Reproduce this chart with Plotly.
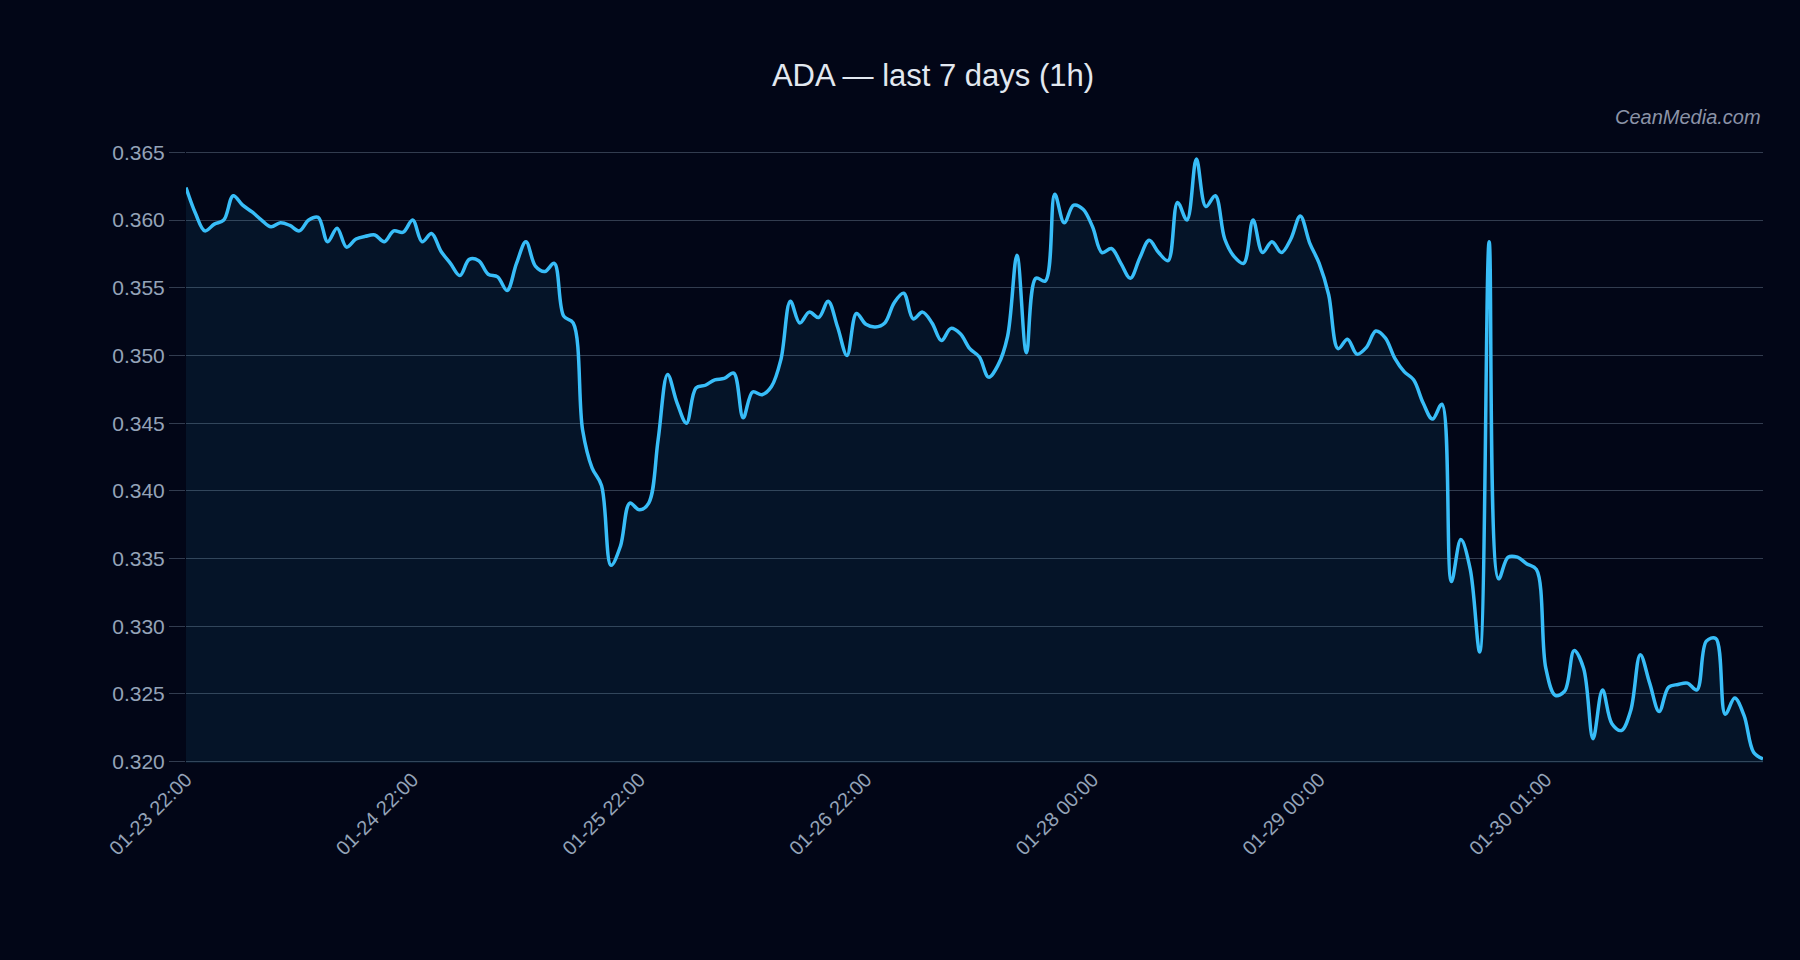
import plotly.graph_objects as go

# Hourly ADA price, point index 0..167
prices = [
    0.3624, 0.3605, 0.3592, 0.3597, 0.3600, 0.3618, 0.3611, 0.3606, 0.3600, 0.3595,
    0.3598, 0.3596, 0.3592, 0.3600, 0.3602, 0.3584, 0.3594, 0.3580, 0.3586, 0.3588,
    0.3589, 0.3584, 0.3592, 0.3591, 0.3600, 0.3584, 0.3590, 0.3577, 0.3568, 0.3559,
    0.3571, 0.3570, 0.3560, 0.3558, 0.3548, 0.3568, 0.3584, 0.3566, 0.3562, 0.3568,
    0.3529, 0.3524, 0.3445, 0.3417, 0.3404, 0.3345, 0.3359, 0.3391, 0.3386, 0.3391,
    0.3438, 0.3486, 0.3465, 0.3450, 0.3476, 0.3478, 0.3482, 0.3483, 0.3487, 0.3454,
    0.3473, 0.3471, 0.3477, 0.3497, 0.3540, 0.3524, 0.3532, 0.3528, 0.3540, 0.3521,
    0.3500, 0.3531, 0.3523, 0.3521, 0.3524, 0.3539, 0.3546, 0.3527, 0.3532, 0.3524,
    0.3511, 0.3520, 0.3516, 0.3505, 0.3499, 0.3484, 0.3493, 0.3514, 0.3574, 0.3502,
    0.3557, 0.3555, 0.3619, 0.3598, 0.3611, 0.3608, 0.3595, 0.3576, 0.3579, 0.3568,
    0.3557, 0.3572, 0.3585, 0.3576, 0.3570, 0.3613, 0.3600, 0.3645, 0.3610, 0.3618,
    0.3586, 0.3573, 0.3568, 0.3600, 0.3576, 0.3584, 0.3576, 0.3586, 0.3603, 0.3583,
    0.3568, 0.3545, 0.3505, 0.3512, 0.3501, 0.3506, 0.3518, 0.3513, 0.3498, 0.3488,
    0.3482, 0.3465, 0.3453, 0.3464, 0.3333, 0.3364, 0.3342, 0.3281, 0.3584, 0.3335,
    0.3351, 0.3351, 0.3346, 0.3342, 0.3269, 0.3249, 0.3252, 0.3282, 0.3269, 0.3217,
    0.3253, 0.3228, 0.3223, 0.3238, 0.3279, 0.3258, 0.3237, 0.3255, 0.3257, 0.3258,
    0.3253, 0.3289, 0.3291, 0.3235, 0.3247, 0.3234, 0.3207, 0.3202,
]
point_index = list(range(len(prices)))

tick_index = [0, 24, 48, 72, 96, 120, 144]
tick_labels = ["01-23 22:00", "01-24 22:00", "01-25 22:00", "01-26 22:00",
               "01-28 00:00", "01-29 00:00", "01-30 01:00"]

y_ticks = [0.320, 0.325, 0.330, 0.335, 0.340, 0.345, 0.350, 0.355, 0.360, 0.365]

BG = "#020617"
GRID = "#323c4f"
TXT = "#94a3b8"
FONT = "Liberation Sans, Arial, sans-serif"

fig = go.Figure()
fig.add_trace(go.Scatter(
    x=point_index, y=prices, mode="lines",
    line=dict(color="#38bdf8", width=3.5, shape="spline"),
    fill="tozeroy", fillcolor="rgba(56,189,248,0.08)",
    hoverinfo="skip", showlegend=False,
))

fig.update_layout(
    width=1800, height=960,
    paper_bgcolor=BG, plot_bgcolor=BG,
    margin=dict(l=186, r=37, t=151, b=197),
    font=dict(family=FONT, color=TXT, size=20),
    title=dict(text="ADA — last 7 days (1h)", x=933/1800, xanchor="center",
               y=1 - 75/960, yanchor="middle",
               font=dict(family=FONT, size=31, color="#e2e8f0")),
    xaxis=dict(range=[0, len(prices) - 1], tickmode="array", tickvals=tick_index,
               ticktext=tick_labels, tickangle=-45, showgrid=False, zeroline=False,
               showline=False, ticks="", tickfont=dict(size=20, color=TXT)),
    yaxis=dict(range=[0.3199, 0.3651], tickmode="array", tickvals=y_ticks,
               tickformat=".3f", showgrid=True, gridcolor=GRID, gridwidth=1.2,
               zeroline=False, showline=False, ticks="outside", ticklen=16,
               tickcolor=GRID, tickwidth=1.2, tickfont=dict(size=21, color=TXT)),
    annotations=[dict(text="<i>CeanMedia.com</i>", xref="paper", yref="paper",
                      x=1, y=1.056, xanchor="right", yanchor="middle",
                      showarrow=False,
                      font=dict(family=FONT, size=20, color="#8b93a7"))],
)

fig.write_html("out.html")
